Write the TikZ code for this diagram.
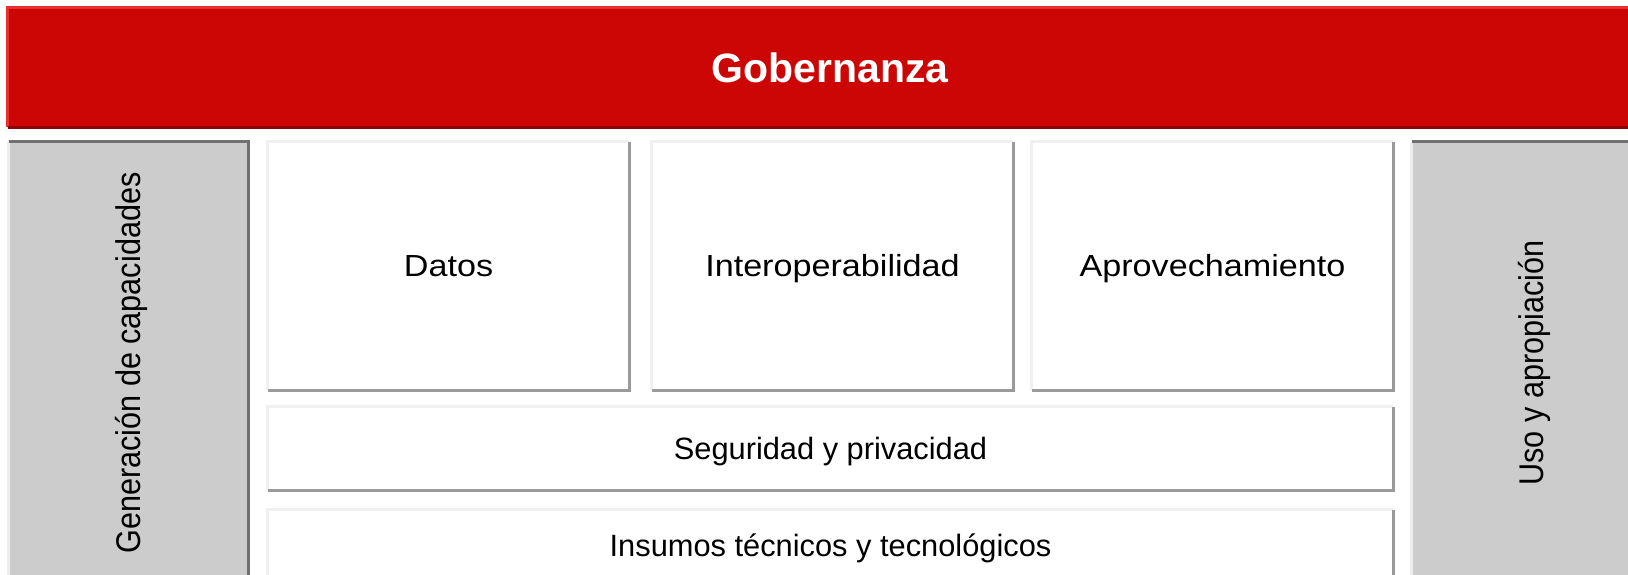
\documentclass[tikz,border=0pt]{standalone}
\usepackage{fontspec}
\setmainfont{Liberation Sans}
\newfontfamily\widefont{Liberation Sans}[FakeStretch=1.12]
\usepackage{tikz}

\definecolor{gobred}{HTML}{CC0605}
\definecolor{gobdark}{HTML}{8E0303}
\definecolor{goblight}{HTML}{E8302E}
\definecolor{sidegray}{HTML}{CCCCCC}
\definecolor{sidedark}{HTML}{707070}
\definecolor{edgegray}{HTML}{9A9A9A}

% bevel: light top/left edge, dark bottom/right edge
\newcommand{\bevelbox}[3]{%
  \draw[line width=3pt, #2] (#1.south west) -- (#1.north west) -- (#1.north east);
  \draw[line width=3pt, #3] (#1.north east) -- (#1.south east) -- (#1.south west);
}
% upright side label, centred on its capitals
\newcommand{\sidelabel}[1]{\rotatebox{90}{\scalebox{1}[1.12]{\raisebox{0pt}[0.716em][0pt]{#1}}}}

\begin{document}
\begin{tikzpicture}[x=1pt, y=-1pt,
    every node/.style={inner sep=0pt, align=center},
    redbar/.style={fill=gobred, text=white, font=\fontsize{41}{48}\selectfont\bfseries,
                   text height=29.4pt, text depth=0pt},
    sidebox/.style={fill=sidegray, minimum width=239pt, minimum height=442pt,
                    font=\fontsize{30.6}{36}\selectfont},
    pillar/.style={fill=white, minimum width=361pt, minimum height=248pt,
                   font=\fontsize{30.5}{36}\selectfont\widefont,
                   text height=21.8pt, text depth=0pt},
    layer/.style={fill=white, minimum width=1125pt, font=\fontsize{30.8}{36}\selectfont,
                  text height=22pt, text depth=0pt}]
    \useasboundingbox (0,0) rectangle (1628,574);
    \clip (0,0) rectangle (1628,574);

    \node[redbar, minimum width=1644pt, minimum height=119pt] (gob) at (830, 67.5) {Gobernanza};
    \bevelbox{gob}{goblight}{gobdark}

    \node[sidebox] (gen) at (128.5, 363) {\sidelabel{Generación de capacidades}};
    \node[sidebox] (uso) at (1531.5, 363) {\sidelabel{Uso y apropiación}};
    \foreach \s in {gen, uso} {
        \draw[line width=3pt, white!93!black] (\s.north west) -- (\s.south west);
        \draw[line width=3pt, sidedark] (\s.north west) -- (\s.north east) -- (\s.south east);
    }

    \node[pillar] (datos) at (448.5, 266) {Datos};
    \node[pillar] (interop) at (832.5, 266) {Interoperabilidad};
    \node[pillar] (aprov) at (1212.5, 266) {Aprovechamiento};
    \bevelbox{datos}{white!94!black}{edgegray}
    \bevelbox{interop}{white!94!black}{edgegray}
    \bevelbox{aprov}{white!94!black}{edgegray}

    \node[layer, minimum height=83pt] (seg) at (830.5, 448.5) {Seguridad y privacidad};
    \node[layer, minimum height=70pt] (ins) at (830.5, 545) {Insumos técnicos y tecnológicos};
    \bevelbox{seg}{white!94!black}{edgegray}
    \bevelbox{ins}{white!94!black}{edgegray}
\end{tikzpicture}
\end{document}
